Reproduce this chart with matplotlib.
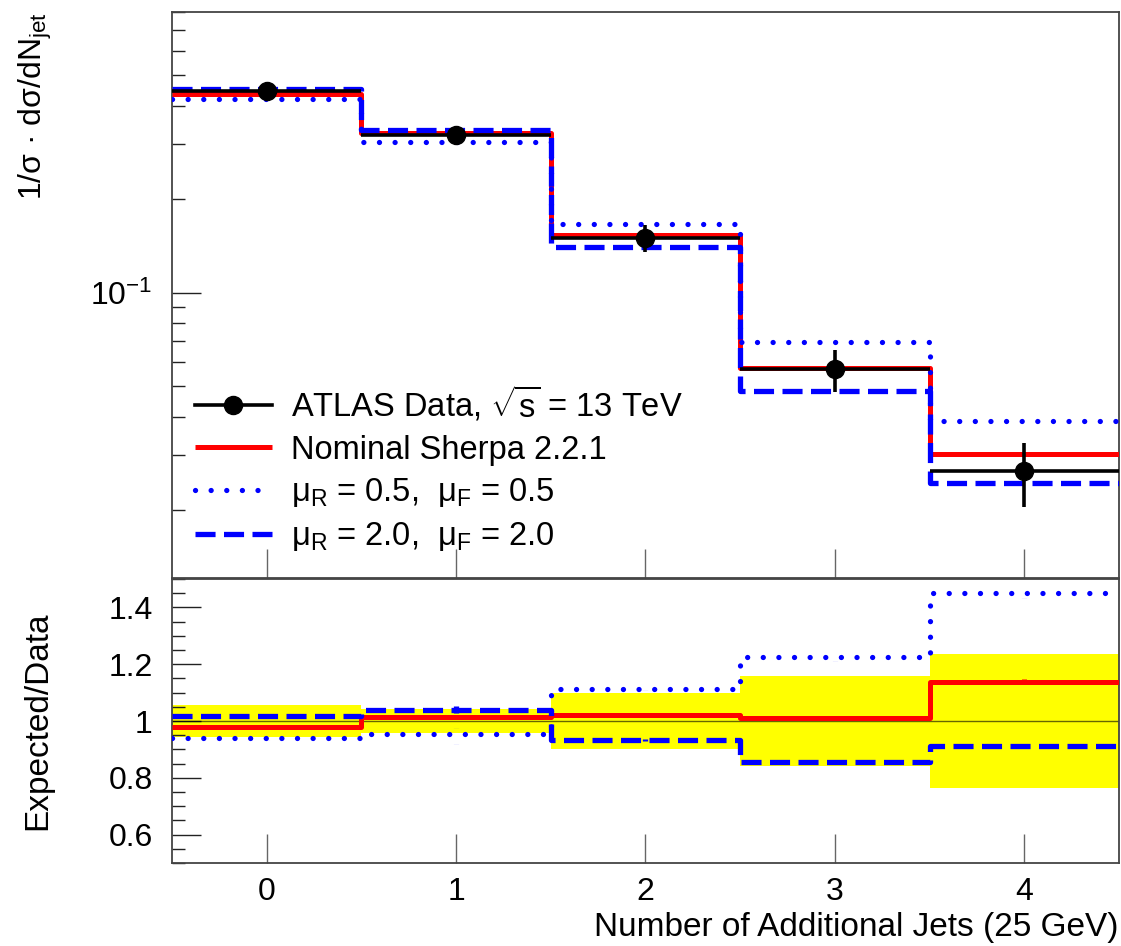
"""
Jet multiplicity: data vs Sherpa with scale variations
"""

import matplotlib.pyplot as plt
import numpy as np
from matplotlib.lines import Line2D
from matplotlib.ticker import (
    FixedLocator,
    FuncFormatter,
    LogLocator,
    MultipleLocator,
    NullFormatter,
)

plt.rcParams["font.family"] = ["Liberation Sans", "DejaVu Sans"]
plt.rcParams["mathtext.fontset"] = "custom"
plt.rcParams["mathtext.rm"] = "Liberation Sans"
plt.rcParams["mathtext.it"] = "Liberation Sans:italic"
plt.rcParams["mathtext.default"] = "regular"

# %% Normalised cross-section per number of additional jets
n_jets = np.array([0, 1, 2, 3, 4])
bin_edges = np.array([-0.5, 0.5, 1.5, 2.5, 3.5, 4.5])

data = np.array([0.446, 0.321, 0.150, 0.0567, 0.0267])
data_rel_err = np.array([0.055, 0.043, 0.100, 0.157, 0.235])

nominal = np.array([0.436, 0.326, 0.153, 0.0574, 0.0304])
scale_down = np.array([0.419, 0.306, 0.167, 0.0695, 0.0387])  # mu_R = mu_F = 0.5
scale_up = np.array([0.454, 0.334, 0.140, 0.0485, 0.0244])  # mu_R = mu_F = 2.0

# MC statistical uncertainty (relative)
nominal_stat = np.array([0.003, 0.003, 0.003, 0.004, 0.008])
scale_down_stat = np.array([0.005, 0.035, 0.004, 0.012, 0.012])
scale_up_stat = np.array([0.004, 0.012, 0.004, 0.005, 0.006])

labels = [
    r"ATLAS Data, $\sqrt{s}$ = 13 TeV",
    "Nominal Sherpa 2.2.1",
    r"μ$_{R}$ = 0.5,  μ$_{F}$ = 0.5",
    r"μ$_{R}$ = 2.0,  μ$_{F}$ = 2.0",
]

# line styles for the predictions
red_style = dict(color="#ff0000", lw=3.6, solid_capstyle="butt")
dot_style = dict(color="#0000ff", lw=3.8, ls=(0, (0.01, 2.95)), dash_capstyle="round")
dash_style = dict(color="#0000ff", lw=3.8, ls=(0, (3.8, 1.6)), dash_capstyle="butt")

frame_color = "#444444"
tick_size = 23
label_size = 24


def step_line(ax, values, **style):
    # histogram outline without the drop to zero at the ends
    return ax.plot(
        bin_edges, np.append(values, values[-1]), drawstyle="steps-post", **style
    )


def style_axes(ax):
    for spine in ax.spines.values():
        spine.set_color(frame_color)
        spine.set_linewidth(1.3)
    ax.tick_params(
        which="both",
        direction="in",
        top=False,
        right=False,
        labelsize=tick_size,
        color="#222222",
    )
    ax.tick_params(axis="y", pad=14)
    ax.tick_params(axis="x", pad=10)
    ax.tick_params(which="major", length=21, width=1.0)
    ax.tick_params(which="minor", length=9.5, width=1.0)
    ax.tick_params(axis="x", which="major", colors="#666666", labelcolor="black")
    ax.set_xlim(-0.5, 4.5)
    ax.xaxis.set_major_locator(FixedLocator(n_jets))
    ax.xaxis.set_minor_locator(FixedLocator([]))


fig = plt.figure(figsize=(11.21, 9.46), dpi=100)
ax_top = fig.add_axes([0.1534, 0.389, 0.8448, 0.5983])
ax_rat = fig.add_axes([0.1534, 0.0877, 0.8448, 0.3002])

# %% Upper panel
step_line(ax_top, nominal, zorder=3, **red_style)
step_line(ax_top, scale_up, zorder=4, **dash_style)
step_line(ax_top, scale_down, zorder=4, **dot_style)
ax_top.errorbar(
    n_jets,
    data,
    xerr=0.5,
    yerr=data * data_rel_err,
    fmt="o",
    color="black",
    ms=13,
    elinewidth=2.6,
    capsize=0,
    zorder=5,
)

ax_top.set_yscale("log")
ax_top.set_ylim(0.0121, 0.8)
ax_top.yaxis.set_major_locator(LogLocator(base=10, subs=(1.0,)))
ax_top.yaxis.set_minor_locator(LogLocator(base=10, subs=np.arange(2, 10)))
ax_top.yaxis.set_minor_formatter(NullFormatter())
style_axes(ax_top)
ax_top.tick_params(axis="x", labelbottom=False)
ax_top.set_ylabel(r"1/σ · dσ/dN$_{jet}$", fontsize=23, loc="top")
ax_top.yaxis.set_label_coords(-0.125, 1.0)

handles = [
    Line2D([], [], color="black", lw=2.6, marker="o", ms=13),
    Line2D([], [], **red_style),
    Line2D([], [], **dot_style),
    Line2D([], [], **dash_style),
]
ax_top.legend(
    handles,
    labels,
    loc="lower left",
    bbox_to_anchor=(0.024, 0.044),
    frameon=False,
    fontsize=23.5,
    handlelength=2.36,
    handletextpad=0.6,
    labelspacing=0.33,
    borderpad=0,
    borderaxespad=0,
)

# %% Ratio panel
ax_rat.bar(
    n_jets,
    2 * data_rel_err,
    bottom=1 - data_rel_err,
    width=1.0,
    color="#ffff00",
    lw=0,
    zorder=1,
)
ax_rat.axhline(1.0, color="black", lw=1.0, alpha=0.6, zorder=2)

for values, stat, style in [
    (nominal, nominal_stat, red_style),
    (scale_up, scale_up_stat, dash_style),
    (scale_down, scale_down_stat, dot_style),
]:
    ratio = values / data
    step_line(ax_rat, ratio, zorder=3, **style)
    bars = ax_rat.errorbar(
        n_jets,
        ratio,
        yerr=ratio * stat,
        fmt="none",
        ecolor=style["color"],
        elinewidth=style["lw"],
        capsize=0,
        zorder=3,
    )
    bars[2][0].set_linestyle(style.get("ls", "-"))

ax_rat.set_ylim(0.5, 1.5)
ax_rat.yaxis.set_major_locator(MultipleLocator(0.2))
ax_rat.yaxis.set_minor_locator(MultipleLocator(0.05))
ax_rat.yaxis.set_major_formatter(FuncFormatter(lambda v, _: f"{v:g}"))
style_axes(ax_rat)
ax_rat.set_ylabel("Expected/Data", fontsize=label_size)
ax_rat.yaxis.set_label_coords(-0.125, 0.5)
ax_rat.set_xlabel(
    "Number of Additional Jets (25 GeV)", fontsize=label_size, loc="right", labelpad=4
)

fig.savefig("out.png", dpi=100)
